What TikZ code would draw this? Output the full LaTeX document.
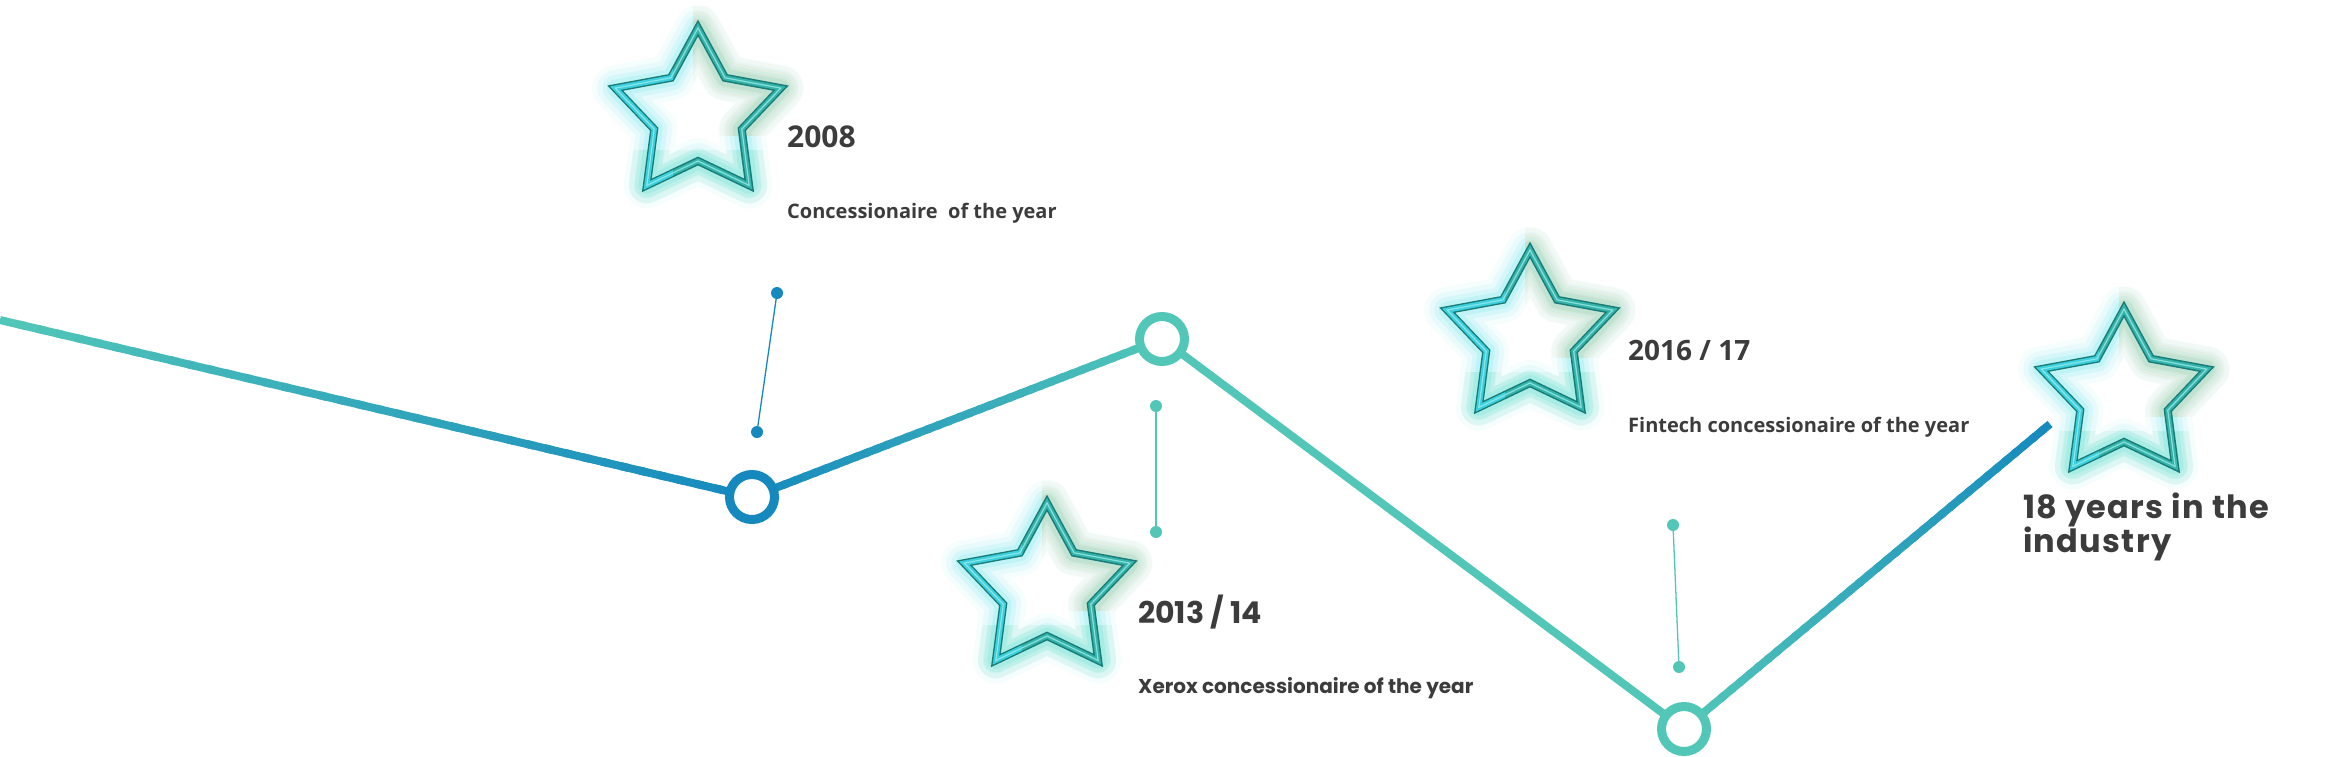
\documentclass[tikz,border=0pt]{standalone}
\usepackage{fontspec}
\setmainfont{Open Sans}
\newfontfamily\pop{Poppins}
\newfontfamily\popw{Poppins}[LetterSpace=4.0]
\usetikzlibrary{calc,backgrounds}
\definecolor{tealc}{HTML}{52C7B8}
\definecolor{bluec}{HTML}{1589BE}
\definecolor{txt}{HTML}{3C3C3C}
\definecolor{stardark}{HTML}{197C76}
\definecolor{starmid}{HTML}{35B3AA}
\definecolor{starlight}{HTML}{9CEDE6}
\definecolor{starcyan}{HTML}{3CCFDF}
\definecolor{glowcyan}{HTML}{40DDEA}
\definecolor{glowyel}{HTML}{C9B46A}
\definecolor{glowgrn}{HTML}{3FCFA0}
\newcommand\gradseg[4]{%
  \foreach \i in {0,...,39}{%
    \pgfmathsetmacro\aa{\i/40}%
    \pgfmathsetmacro\bb{min(1,(\i+1.4)/40)}%
    \pgfmathsetmacro\mm{100*(\i+0.5)/40}%
    \draw[mainline, color={#4!\mm!#3}] ($(#1)!\aa!(#2)$) -- ($(#1)!\bb!(#2)$);
  }}
\tikzset{
  x=1pt, y=1pt,
  mainline/.style={line width=8pt, line cap=butt},
  ring/.style={circle, draw=#1, line width=9pt, fill=white, minimum size=45pt, inner sep=0pt},
  pindot/.style={circle, fill=#1, minimum size=12pt, inner sep=0pt},
  pinline/.style={draw=#1, line width=1.3pt},
  year/.style={anchor=base west, text=txt, font=\fontsize{30}{36}\selectfont\bfseries, inner sep=0pt},
  caption/.style={anchor=base west, text=txt, font=\fontsize{20}{24}\selectfont\bfseries, inner sep=0pt},
  glowstar/.pic={
    \foreach \w/\o in {46/0.05, 36/0.07, 26/0.10, 17/0.15}{
      \draw[glowcyan, line width=\w pt, opacity=\o, line join=round]
        (90:87) -- (126:46) -- (162:87) -- (198:46) -- (234:87) -- (270:46) -- (306:87) -- (342:46) -- (18:87) -- (54:46) -- cycle;
    }
    \begin{scope}
      \clip (-5,-20) rectangle (150,150);
      \foreach \w/\o in {44/0.06, 32/0.09, 20/0.12}{
        \draw[glowyel, line width=\w pt, opacity=\o, line join=round]
          (90:87) -- (126:46) -- (162:87) -- (198:46) -- (234:87) -- (270:46) -- (306:87) -- (342:46) -- (18:87) -- (54:46) -- cycle;
      }
    \end{scope}
    \begin{scope}
      \clip (-140,-140) rectangle (140,-35);
      \foreach \w/\o in {36/0.07, 24/0.10}{
        \draw[glowgrn, line width=\w pt, opacity=\o, line join=round]
          (90:87) -- (126:46) -- (162:87) -- (198:46) -- (234:87) -- (270:46) -- (306:87) -- (342:46) -- (18:87) -- (54:46) -- cycle;
      }
    \end{scope}
    \draw[stardark, line width=8pt, line join=miter]
      (90:87) -- (126:46) -- (162:87) -- (198:46) -- (234:87) -- (270:46) -- (306:87) -- (342:46) -- (18:87) -- (54:46) -- cycle;
    \draw[starmid, line width=5pt, line join=miter]
      (90:87) -- (126:46) -- (162:87) -- (198:46) -- (234:87) -- (270:46) -- (306:87) -- (342:46) -- (18:87) -- (54:46) -- cycle;
    \begin{scope}
      \clip (-140,-140) rectangle (-25,140);
      \draw[starcyan, line width=5pt, line join=miter]
        (90:87) -- (126:46) -- (162:87) -- (198:46) -- (234:87) -- (270:46) -- (306:87) -- (342:46) -- (18:87) -- (54:46) -- cycle;
    \end{scope}
    \draw[starlight, line width=1.2pt, line join=miter, opacity=0.8]
      (90:87) -- (126:46) -- (162:87) -- (198:46) -- (234:87) -- (270:46) -- (306:87) -- (342:46) -- (18:87) -- (54:46) -- cycle;
  }
}
\begin{document}
\begin{tikzpicture}
\useasboundingbox (0,0) rectangle (2346,-756);

% stars
\pic (s1) at (698,-115) {glowstar};
\pic (s2) at (1047,-590) {glowstar};
\pic (s3) at (1530,-337) {glowstar};
\pic (s4) at (2124,-396) {glowstar};

% main line nodes
\coordinate (p0) at (0,-320);
\node[ring=bluec] (c1) at (752,-497) {};
\node[ring=tealc] (c2) at (1162,-339) {};
\node[ring=tealc] (c3) at (1684,-729) {};
\coordinate (p5) at (2050,-424);

\begin{scope}[on background layer]
  \fill[white] (0,0) rectangle (2346,-756);
  \gradseg{p0}{c1}{tealc}{bluec}
  \gradseg{c1}{c2}{bluec}{tealc}
  \draw[mainline, tealc] (c2.center) -- (c3.center);
  \gradseg{c3}{p5}{tealc}{bluec}
\end{scope}

% pins
\node[pindot=bluec] (d1a) at (777,-293) {};
\node[pindot=bluec] (d1b) at (757,-432) {};
\draw[pinline=bluec] (d1a) -- (d1b);
\node[pindot=tealc] (d2a) at (1156,-406) {};
\node[pindot=tealc] (d2b) at (1156,-532) {};
\draw[pinline=tealc] (d2a) -- (d2b);
\node[pindot=tealc] (d3a) at (1673,-525) {};
\node[pindot=tealc] (d3b) at (1679,-667) {};
\draw[pinline=tealc] (d3a) -- (d3b);

% texts
\node[year] (t1) at (787,-147) {2008};
\node[caption] (t1b) at (787,-218) {Concessionaire\ \ of the year};
\node[year, font=\pop\fontsize{30}{36}\selectfont\bfseries] (t2) at (1138,-623) {2013 / 14};
\node[caption, font=\pop\fontsize{20}{24}\selectfont\bfseries] (t2b) at (1138,-693) {Xerox concessionaire of the year};
\node[year, font=\fontsize{28}{34}\selectfont\bfseries] (t3) at (1628,-360) {2016 / 17};
\node[caption] (t3b) at (1628,-432) {Fintech concessionaire of the year};
\node[anchor=base west, text=txt, inner sep=0pt, font=\popw\fontsize{32}{34}\selectfont\bfseries] (t4) at (2023,-518) {18 years in the};
\node[anchor=base west, text=txt, inner sep=0pt, font=\popw\fontsize{32}{34}\selectfont\bfseries] (t4b) at (2023,-552) {industry};
\end{tikzpicture}
\end{document}
